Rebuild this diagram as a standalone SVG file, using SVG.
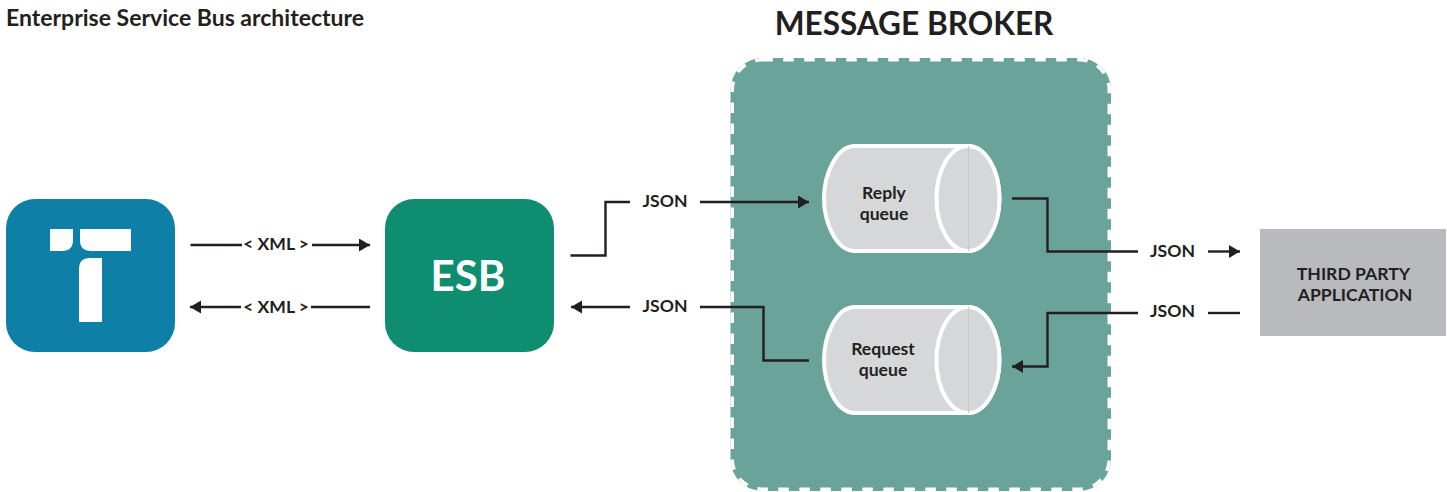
<svg xmlns="http://www.w3.org/2000/svg" width="1447" height="492" viewBox="0 0 1447 492">
<style>
text{font-family:Lato,"Open Sans",sans-serif;font-weight:700;fill:#231f20;text-anchor:middle}
.lbl{font-size:17.6px}
.c{fill:none;stroke:#231f20;stroke-width:2.4}
.cyl{fill:#d6d7d9;stroke:#fff;stroke-width:4}
.tick{stroke:#b3d2cb;stroke-width:1;fill:none}
</style>
<defs>
<marker id="a" markerUnits="userSpaceOnUse" markerWidth="12" markerHeight="14" refX="11" refY="6.5" orient="auto-start-reverse"><path d="M0,0L11,6.5L0,13z" fill="#231f20"/></marker>
</defs>
<rect width="1447" height="492" fill="#fff"/>
<text id="title" x="6" y="26" style="text-anchor:start;font-size:23px">Enterprise Service Bus architecture</text>
<g id="broker">
<rect x="730.500" y="58" width="380.500" height="433" rx="32" fill="#6aa39a"/>
<rect x="732.250" y="59.750" width="377" height="429.500" rx="30" fill="none" stroke="#fff" stroke-width="3.500" stroke-dasharray="10.500 10.500"/>
<text x="914" y="35" style="font-size:31.600px">MESSAGE BROKER</text>
</g>
<g id="client">
<rect x="6" y="199" width="169" height="153" rx="29" fill="#0e7fa6"/>
<path d="M50,229H73V240Q73,251 62,251H50z M80,229H131V251H91Q80,251 80,240z M102,258V322H79V269Q79,258 90,258z" fill="#fff"/>
</g>
<g id="esb">
<rect x="385" y="199" width="169" height="153" rx="29" fill="#0f8d71"/>
<text x="468" y="291" style="font-size:42px;fill:#fff">ESB</text>
</g>
<g id="reply-queue">
<path class="cyl" d="M968,146H855C836,146 824,175 824,198.500S836,251 855,251H968C986,251 999.500,222 999.500,198.500S986,146 968,146z"/>
<ellipse class="cyl" cx="968" cy="198.500" rx="31.500" ry="52.500"/>
<path class="tick" d="M968.500,146V251"/>
<text class="lbl" x="884" y="199">Reply</text>
<text class="lbl" x="884" y="220">queue</text>
</g>
<g id="request-queue">
<path class="cyl" d="M968,307H855C836,307 824,336 824,360S836,413 855,413H968C986,413 999.500,384 999.500,360S986,307 968,307z"/>
<ellipse class="cyl" cx="968" cy="360" rx="31.500" ry="53"/>
<path class="tick" d="M968.500,307V413"/>
<text class="lbl" x="883" y="355">Request</text>
<text class="lbl" x="883" y="376">queue</text>
</g>
<g id="third-party">
<rect x="1260" y="229" width="186" height="107" fill="#b9babd"/>
<text class="lbl" x="1353.500" y="279.500">THIRD PARTY</text>
<text class="lbl" x="1355" y="300.500">APPLICATION</text>
</g>
<g id="connectors">
<path class="c" d="M190.500,245H242"/>
<path class="c" d="M312,245H370" marker-end="url(#a)"/>
<path class="c" d="M241,307H190" marker-end="url(#a)"/>
<path class="c" d="M311,307H370"/>
<path class="c" d="M570.500,255.500H605.500V202H630"/>
<path class="c" d="M700,202H809" marker-end="url(#a)"/>
<path class="c" d="M630,307H571" marker-end="url(#a)"/>
<path class="c" d="M700,307H763.500V360.500H809"/>
<path class="c" d="M1012,198.500H1047.500V251.500H1138"/>
<path class="c" d="M1208,251.500H1240" marker-end="url(#a)"/>
<path class="c" d="M1240,313H1208"/>
<path class="c" d="M1138,313H1047.500V366.500H1012" marker-end="url(#a)"/>
</g>
<g id="labels">
<text class="lbl" x="276" y="250">&lt; XML &gt;</text>
<text class="lbl" x="276" y="312.500">&lt; XML &gt;</text>
<text class="lbl" x="665" y="207">JSON</text>
<text class="lbl" x="665" y="312">JSON</text>
<text class="lbl" x="1172.500" y="257">JSON</text>
<text class="lbl" x="1172.500" y="317">JSON</text>
</g>
</svg>
